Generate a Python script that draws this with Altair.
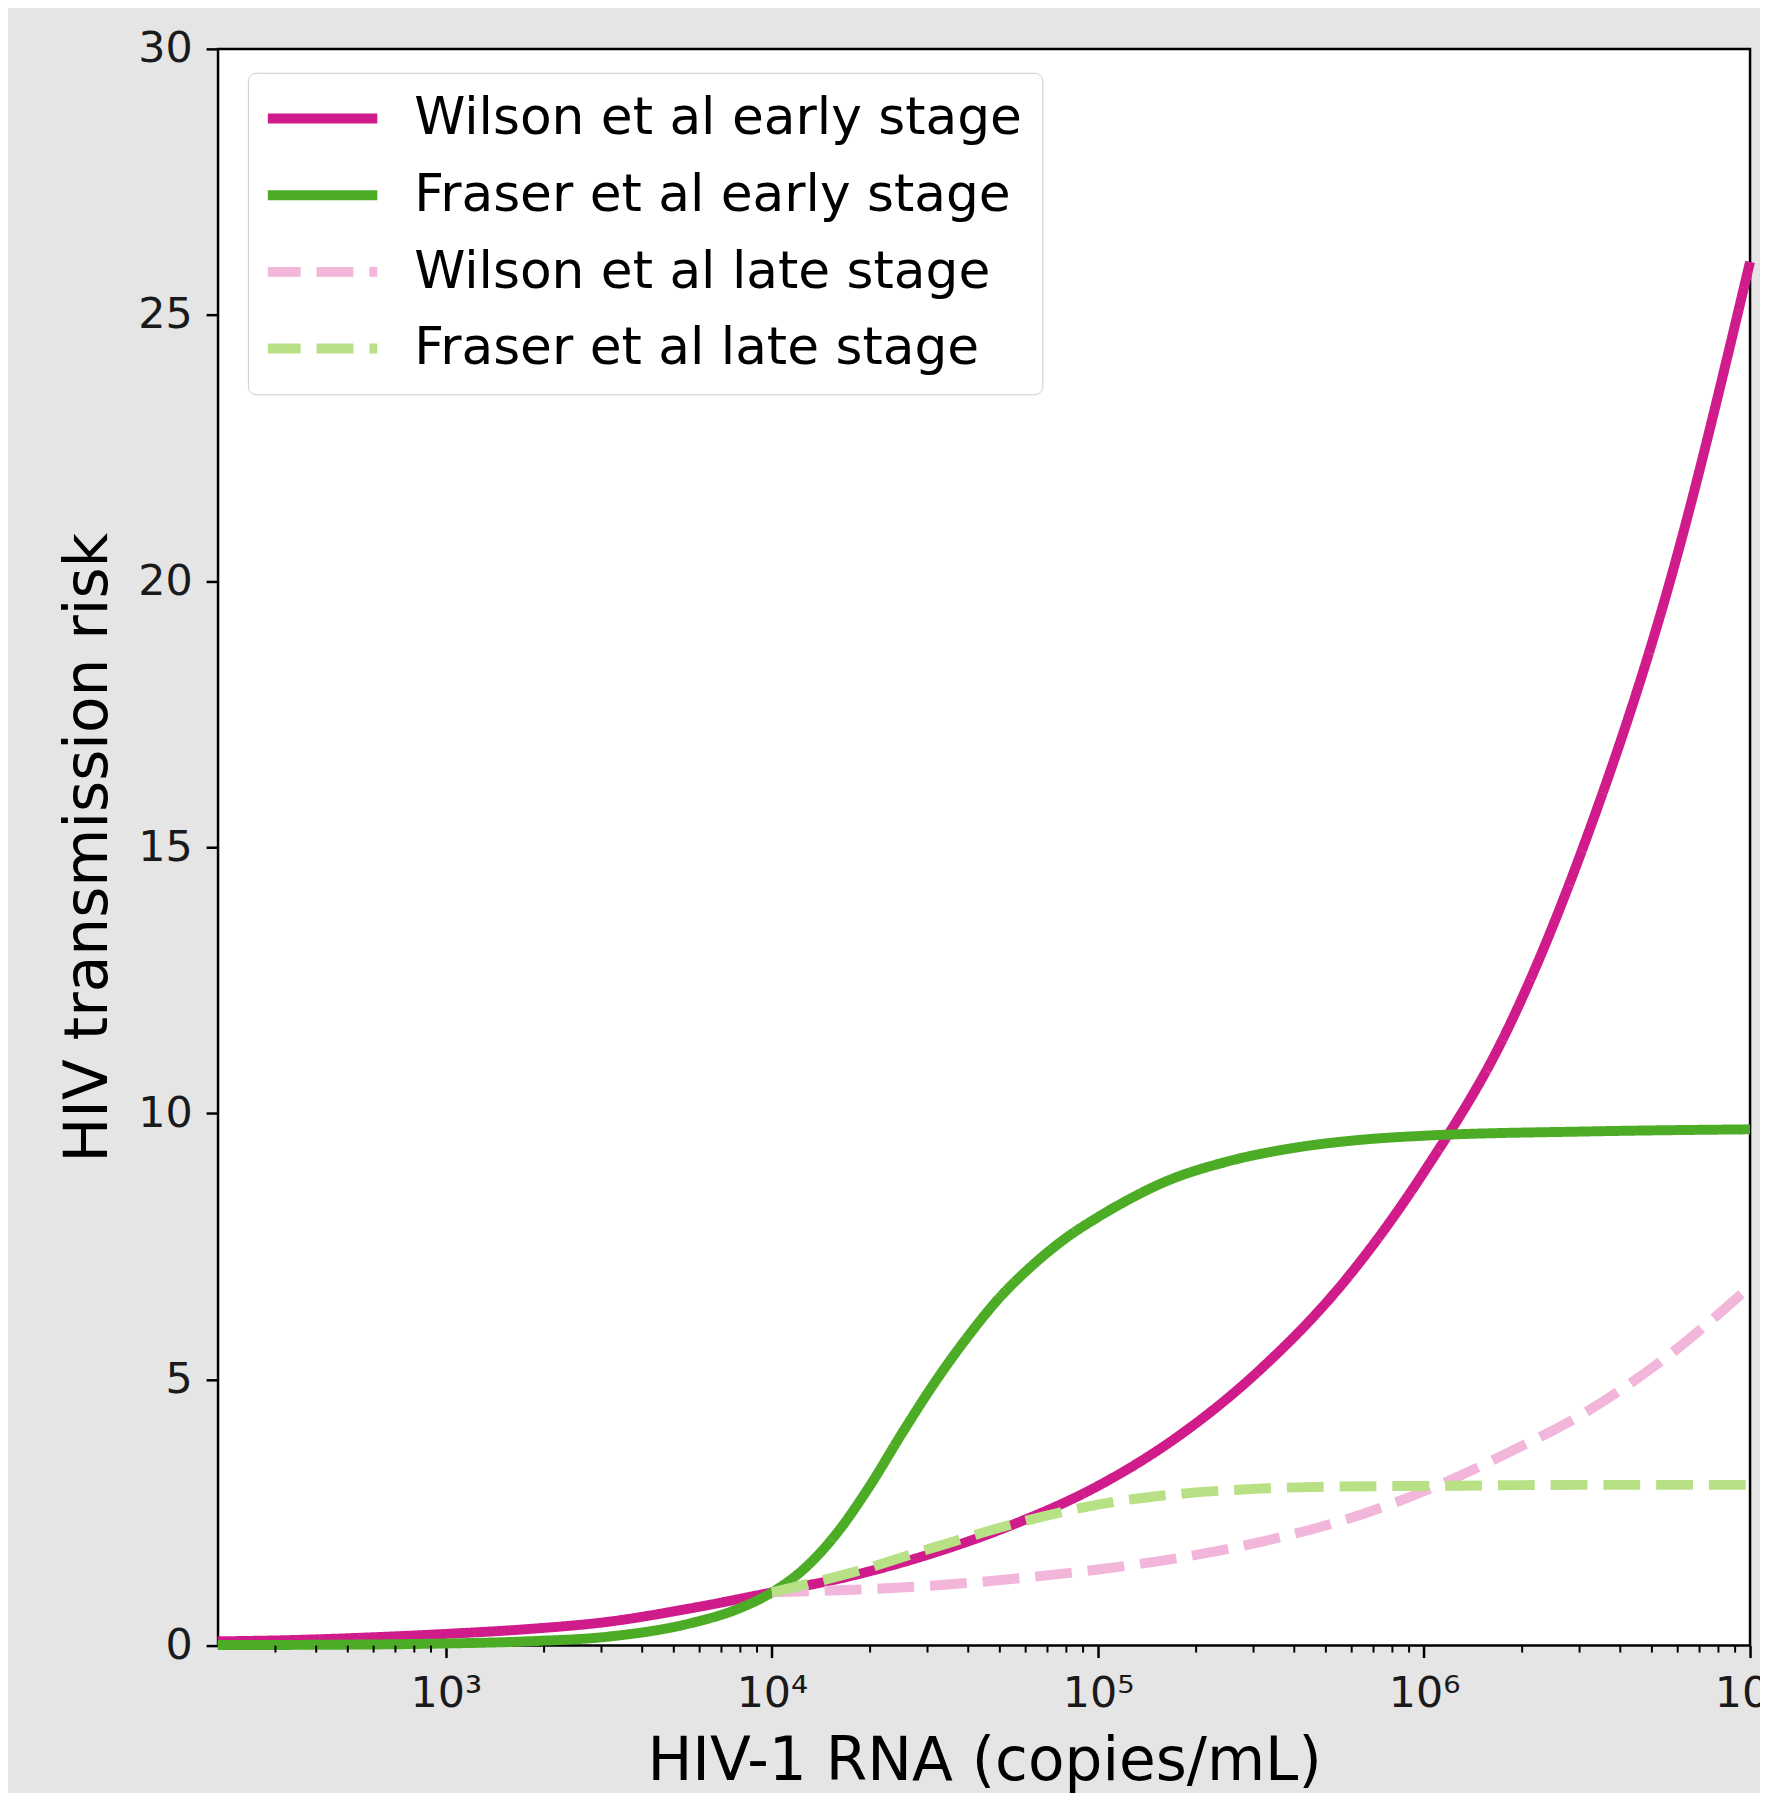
import altair as alt
import pandas as pd

# ---- data (log10 of HIV-1 RNA copies/mL, risk) ----
series_names = ["Wilson et al early stage", "Fraser et al early stage",
                "Wilson et al late stage", "Fraser et al late stage"]
series_colors = ["#d01c8b", "#4dac26", "#f1b6da", "#b8e186"]

wilson_early_log = [2.3, 2.5, 2.75, 3.0, 3.25, 3.5, 3.75, 4.0, 4.25, 4.5, 4.75, 5.0,
                    5.25, 5.5, 5.75, 6.0, 6.25, 6.5, 6.75, 7.0]
wilson_early_val = [0.08, 0.10, 0.15, 0.22, 0.31, 0.45, 0.70, 1.0, 1.32, 1.75, 2.3, 3.0,
                    3.95, 5.2, 6.8, 8.9, 11.5, 15.2, 19.9, 26.0]

fraser_early_log = [2.3, 2.75, 3.0, 3.25, 3.5, 3.75, 3.9, 4.0, 4.1, 4.2, 4.3, 4.4, 4.5,
                    4.6, 4.7, 4.8, 4.9, 5.0, 5.1, 5.2, 5.4, 5.6, 5.8, 6.0, 6.5, 7.0]
fraser_early_val = [0.01, 0.02, 0.04, 0.08, 0.17, 0.42, 0.70, 1.0, 1.45, 2.12, 3.0, 4.0, 4.95,
                    5.8, 6.55, 7.15, 7.65, 8.05, 8.4, 8.7, 9.1, 9.35, 9.5, 9.58, 9.66, 9.7]

wilson_late_log = [4.0, 4.25, 4.5, 4.75, 5.0, 5.25, 5.5, 5.75, 6.0, 6.25, 6.5, 6.75, 7.0]
wilson_late_val = [1.0, 1.05, 1.13, 1.26, 1.43, 1.65, 1.95, 2.35, 2.9, 3.6, 4.4, 5.45, 6.75]

fraser_late_log = [4.0, 4.25, 4.5, 4.75, 5.0, 5.25, 5.5, 5.75, 6.0, 6.5, 7.0]
fraser_late_val = [1.0, 1.38, 1.85, 2.3, 2.65, 2.85, 2.95, 2.99, 3.0, 3.02, 3.02]

major_ticks = [1e3, 1e4, 1e5, 1e6, 1e7]
minor_ticks = [m * 10 ** e for e in range(2, 7) for m in range(2, 10) if m * 10 ** e > 200]
y_ticks = [0, 5, 10, 15, 20, 25, 30]

rows = []
for name, lg, vals in zip(series_names,
                          [wilson_early_log, fraser_early_log, wilson_late_log, fraser_late_log],
                          [wilson_early_val, fraser_early_val, wilson_late_val, fraser_late_val]):
    for i, (a, b) in enumerate(zip(lg, vals)):
        rows.append({"series": name, "rna": 10 ** a, "risk": b, "i": i})
df = pd.DataFrame(rows)

FONT = "DejaVu Sans"
W, H = 1539, 1604

xscale = alt.Scale(type="log", domain=[200, 1e7], nice=False)
yscale = alt.Scale(domain=[0, 30], nice=False)

xaxis = alt.Axis(values=major_ticks, title="HIV-1 RNA (copies/mL)",
                 labelExpr="datum.value == 1000 ? '10³' : datum.value == 10000 ? '10⁴' : "
                           "datum.value == 100000 ? '10⁵' : datum.value == 1000000 ? '10⁶' : '10⁷'",
                 labelFontSize=43, labelFont=FONT, labelColor="#1a1a1a", labelPadding=15,
                 labelFlush=False, labelOverlap=False,
                 tickSize=12, tickWidth=2.5, tickColor="black", domain=False, grid=False,
                 titleFontSize=60, titleFont=FONT, titleFontWeight="normal", titleColor="black",
                 titlePadding=18)
yaxis = alt.Axis(values=y_ticks, title="HIV transmission risk",
                 labelFontSize=43, labelFont=FONT, labelColor="#1a1a1a", labelPadding=14,
                 tickSize=12, tickWidth=2.5, tickColor="black", domain=False, grid=False,
                 titleFontSize=60, titleFont=FONT, titleFontWeight="normal", titleColor="black",
                 titlePadding=18)

color = alt.Color("series:N",
                  scale=alt.Scale(domain=series_names, range=series_colors),
                  legend=alt.Legend(orient="none", legendX=30, legendY=24, title=None,
                                    labelFontSize=52, labelFont=FONT, labelColor="black",
                                    symbolType="stroke", symbolSize=12996, symbolStrokeWidth=10,
                                    clipHeight=52, rowPadding=25, padding=20,
                                    fillColor="white", strokeColor="#cccccc", cornerRadius=8,
                                    labelOffset=32, symbolOffset=-9, labelLimit=900))
dash = alt.StrokeDash("series:N",
                      scale=alt.Scale(domain=series_names,
                                      range=[[1, 0], [1, 0], [37, 16], [37, 16]]),
                      legend=None)

layers = []
for k, name in enumerate(series_names):
    layers.append(
        alt.Chart(df).transform_filter(alt.datum.series == name)
        .mark_line(strokeWidth=10, strokeCap="butt", interpolate="monotone")
        .encode(x=alt.X("rna:Q", scale=xscale, axis=xaxis),
                y=alt.Y("risk:Q", scale=yscale, axis=yaxis),
                color=color, strokeDash=dash, order="i:Q")
    )

minor = alt.Chart(pd.DataFrame({"t": minor_ticks})).mark_rule(
    color="black", strokeWidth=2
).encode(x=alt.X("t:Q", scale=xscale), y=alt.value(H), y2=alt.value(H + 7))

chart = alt.layer(*layers, minor).properties(
    width=W, height=H,
    padding={"left": 211, "top": 37, "right": 10, "bottom": 144},
    autosize=alt.AutoSizeParams(type="none"),
    background="#e5e5e5",
).configure_view(fill="white", stroke="black", strokeWidth=2.5)

chart.save("out.html", embed_options={"renderer": "svg", "actions": False})
